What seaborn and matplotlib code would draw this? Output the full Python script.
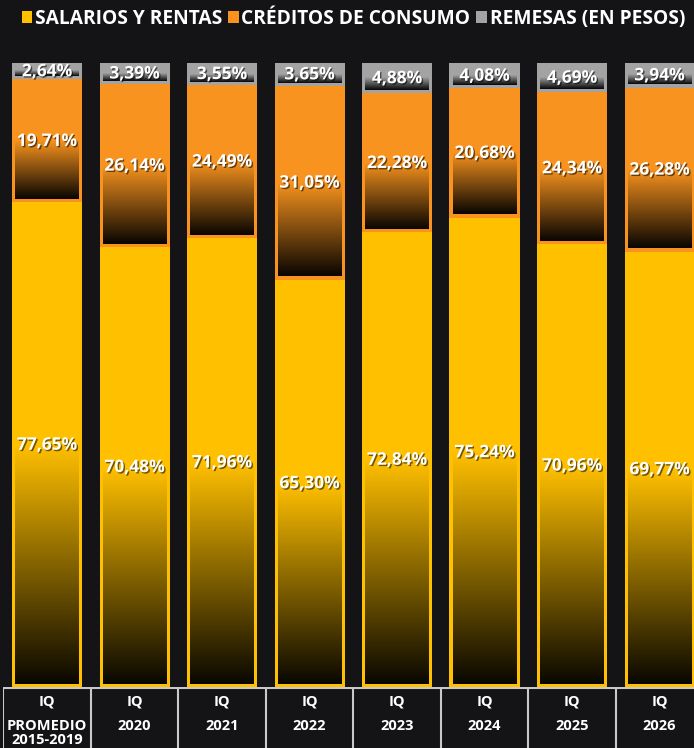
import numpy as np
import pandas as pd
import matplotlib
matplotlib.use("Agg")
import matplotlib.pyplot as plt
import matplotlib.patheffects as pe
from matplotlib.patches import Patch
import seaborn as sns

# Composición del ingreso de los hogares, primer trimestre de cada año (%)
trimestre = "IQ"
periodos = ["PROMEDIO\n2015-2019", "2020", "2021", "2022", "2023", "2024", "2025", "2026"]
salarios = [77.65, 70.48, 71.96, 65.30, 72.84, 75.24, 70.96, 69.77]
creditos = [19.71, 26.14, 24.49, 31.05, 22.28, 20.68, 24.34, 26.28]
remesas = [2.64, 3.39, 3.55, 3.65, 4.88, 4.08, 4.69, 3.94]
series = ["SALARIOS Y RENTAS", "CRÉDITOS DE CONSUMO", "REMESAS (EN PESOS)"]

FONDO = "#141416"
AMARILLO = "#FFC000"
NARANJA = "#F7931E"
GRIS = "#A3A3A3"
FUENTE = "Open Sans"

sns.set_theme(style="dark")
plt.rcParams["font.family"] = [FUENTE, "DejaVu Sans"]

df = pd.DataFrame({
    "periodo": periodos,
    "salarios": salarios,
    "creditos": creditos,
    "remesas": remesas,
})
df["hasta_creditos"] = df["salarios"] + df["creditos"]
df["total"] = df["hasta_creditos"] + df["remesas"]

W, H = 694, 748
fig = plt.figure(figsize=(W / 100, H / 100), dpi=100, facecolor=FONDO)
paso = 87.5
ax = fig.add_axes([3.25 / W, 61 / H, 8 * paso / W, 624 / H])
ax.set_facecolor(FONDO)

capas = [
    ("total", "hasta_creditos", GRIS),
    ("hasta_creditos", "salarios", NARANJA),
    ("salarios", None, AMARILLO),
]
for col, _, color in capas:
    sns.barplot(data=df, x="periodo", y=col, color=color, saturation=1,
                width=0.8, linewidth=0, errorbar=None, ax=ax)

ax.set_xlim(-0.5, 7.5)
ax.set_ylim(0, 100)

# Degradado hacia negro desde el centro de cada segmento hasta su base
dx = 3.2 / paso
dy = 3.2 / 6.24
grad = np.zeros((256, 1, 4))
grad[..., 3] = np.linspace(0.0, 0.97, 256)[:, None]
etiqueta_fx = [pe.withSimplePatchShadow(offset=(1, -1), shadow_rgbFace="black", alpha=0.55)]

for k, (col, base_col, color) in enumerate(capas):
    patches = ax.patches[k * 8:(k + 1) * 8]
    tops = df[col].to_numpy()
    bases = df[base_col].to_numpy() if base_col else np.zeros(8)
    for i, p in enumerate(patches):
        x0, w = p.get_x(), p.get_width()
        b, t = bases[i], tops[i]
        centro = (b + t) / 2
        ax.imshow(grad, extent=(x0 + dx, x0 + w - dx, b + dy, centro),
                  origin="upper", aspect="auto", interpolation="bilinear",
                  zorder=p.get_zorder() + 0.1 + k * 0.001)
    valores_txt = {"total": remesas, "hasta_creditos": creditos, "salarios": salarios}[col]
    for i in range(8):
        centro = (bases[i] + tops[i]) / 2
        ax.text(i, centro, f"{valores_txt[i]:.2f}".replace(".", ",") + "%",
                ha="center", va="center", color="white", fontsize=12.5,
                fontweight="bold", zorder=10, path_effects=etiqueta_fx)

ax.set_xlim(-0.5, 7.5)
ax.set_ylim(0, 100)
ax.set_axis_off()

# Tabla de categorías bajo las barras
tax = fig.add_axes([3.25 / W, 0, 8 * paso / W, 61 / H])
tax.set_facecolor(FONDO)
tax.set_xlim(-0.5, 7.5)
tax.set_ylim(0, 61)
tax.set_axis_off()
for i in range(9):
    tax.plot([i - 0.5, i - 0.5], [0, 61], color="#c9c9c9", lw=1.5, solid_capstyle="butt")
tax.plot([-0.5, 7.5], [60.5, 60.5], color="#c9c9c9", lw=1.5)
for i, per in enumerate(periodos):
    tax.text(i, 61 - 14, trimestre, ha="center", va="center", color="white",
             fontsize=10.5, fontweight="bold")
    for j, linea in enumerate(per.split("\n")):
        tax.text(i, 61 - 38.5 - 14.5 * j, linea, ha="center", va="center",
                 color="white", fontsize=10.5, fontweight="bold")

# Leyenda
handles = [Patch(facecolor=c, edgecolor="none") for c in (AMARILLO, NARANJA, GRIS)]
leg = fig.legend(handles, series, loc="upper left", bbox_to_anchor=(14 / W, 1 - 1 / H),
                 ncol=3, frameon=False, handlelength=0.55, handleheight=0.65,
                 handletextpad=0.15, columnspacing=0.3, borderaxespad=0,
                 prop={"family": FUENTE, "weight": "bold", "size": 13.8})
for txt in leg.get_texts():
    txt.set_color("white")

fig.savefig("out.png", dpi=100, facecolor=FONDO)
